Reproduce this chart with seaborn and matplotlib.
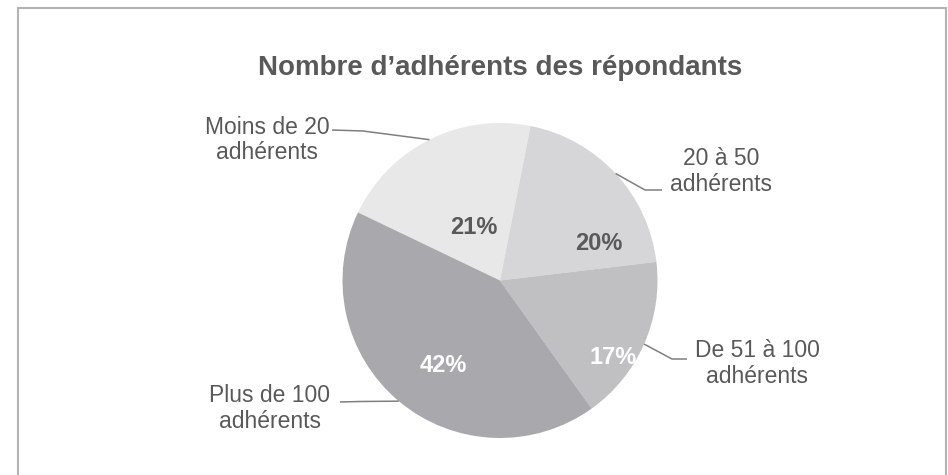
import numpy as np
import matplotlib
matplotlib.use('Agg')
import matplotlib.pyplot as plt
import seaborn as sns

# données
categories = ['Moins de 20\nadhérents', '20 à 50\nadhérents',
              'De 51 à 100\nadhérents', 'Plus de 100\nadhérents']
parts = [21, 20, 17, 42]
slice_colors = ['#e8e8e8', '#d6d5d7', '#c0bfc1', '#a9a8ac']
pct_colors = ['#595959', '#595959', 'white', 'white']

sns.set_theme(style="white")
plt.rcParams['font.family'] = ['Liberation Sans', 'DejaVu Sans']

W, H = 948, 475
fig = plt.figure(figsize=(W / 100, H / 100), dpi=100)
ax = fig.add_axes([0, 0, 1, 1])

def py(y):
    # pixel (haut->bas) vers coordonnées de l'axe
    return H - y

cx, cy, R = 500, 280.5, 157.5
wedges, _ = ax.pie(parts, colors=slice_colors, startangle=154.4, counterclock=False,
                   center=(cx, py(cy)), radius=R, frame=True,
                   wedgeprops=dict(linewidth=0))
ax.set_xlim(0, W)
ax.set_ylim(0, H)
ax.set_aspect('equal')
ax.axis('off')

# pourcentages (positions façon Excel "ajustement optimal")
pct_pos = [(474, 228), (599, 243), (613, 357), (443, 365)]
total = sum(parts)
for v, (x, y), c in zip(parts, pct_pos, pct_colors):
    ax.text(x, py(y), f"{v / total * 100:.0f}%", ha='center', va='center',
            fontsize=17, fontweight='bold', color=c)

# étiquettes et lignes de rappel
label_pos = [(267.5, 140), (721, 171.5), (757, 363.5), (270, 408.5)]
leader_pts = [[(363, 131), (332, 130)],
              [(645, 190), (662, 190)],
              [(672, 359), (687, 359)],
              [(360, 401.5), (340, 402)]]
for w, lab, (lx, ly), pts in zip(wedges, categories, label_pos, leader_pts):
    ang = np.deg2rad((w.theta1 + w.theta2) / 2)
    sx, sy = cx + R * np.cos(ang), py(cy) + R * np.sin(ang)
    xs = [sx] + [p[0] for p in pts]
    ys = [sy] + [py(p[1]) for p in pts]
    ax.plot(xs, ys, color='#7f7f7f', lw=1.1, solid_capstyle='butt')
    ax.text(lx, py(ly), lab, ha='center', va='center', fontsize=16.5,
            color='#595959', linespacing=1.15)

ax.text(500, py(75), "Nombre d’adhérents des répondants", ha='center', va='baseline',
        fontsize=20, fontweight='bold', color='#595959')

# cadre du graphique
ax.plot([18, 18, 946.5, 946.5], [0, py(8), py(8), 0], color='#b3b3b3', lw=1.5,
        solid_joinstyle='miter')

fig.savefig('out.png', dpi=100, facecolor='white')
